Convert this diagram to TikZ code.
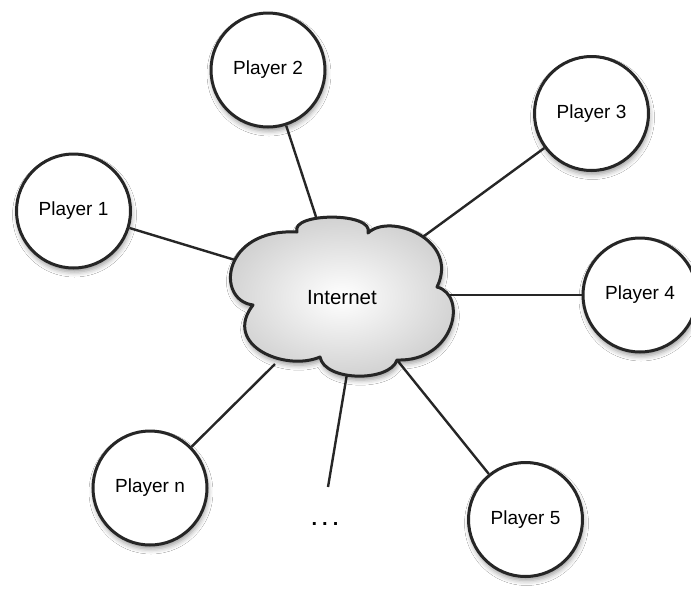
\documentclass[tikz,border=0pt]{standalone}
\usepackage{fontspec}
\setmainfont{Liberation Sans}
\usetikzlibrary{shadows.blur}
\begin{document}
\begin{tikzpicture}[x=1pt,y=-1pt,
  softshadow/.style={blur shadow={shadow xshift=1pt, shadow yshift=-4pt, shadow blur radius=5pt, shadow opacity=40}},
  player/.style={circle, draw=black!85, line width=3pt, fill=white, minimum size=114pt, inner sep=0pt,
    font=\fontsize{19}{22}\selectfont, softshadow},
  link/.style={draw=black!85, line width=2.4pt},
  cloudline/.style={draw=black!85, line width=3pt, line join=round, inner color=white, outer color=black!19, softshadow}]
\useasboundingbox (0,0) rectangle (691,590);
\fill[white] (0,0) rectangle (691,590);

% players
\node[player] (p1) at (73.5,211) {Player 1};
\node[player] (p2) at (268,70) {Player 2};
\node[player] (p3) at (591.5,113.5) {Player 3};
\node[player] (p4) at (640,295) {Player 4};
\node[player] (pn) at (150,488) {Player n};
\node[player] (p5) at (525.5,519.5) {Player 5};
\node[font=\fontsize{20}{22}\selectfont\bfseries] (dots) at (325,524) {.\hspace{5pt}.\hspace{5pt}.};

% attachment points on the cloud
\coordinate (c1) at (245,263);
\coordinate (c2) at (319,226);
\coordinate (c3) at (420,239);
\coordinate (c4) at (440,295);
\coordinate (c5) at (393,355);
\coordinate (c6) at (275,364);
\coordinate (c7) at (348,368);
\coordinate (d) at (328,487);

% connectors
\draw[link] (p1) -- (c1);
\draw[link] (p2) -- (c2);
\draw[link] (p3) -- (c3);
\draw[link] (p4) -- (c4);
\draw[link] (p5) -- (c5);
\draw[link] (pn) -- (c6);
\draw[link] (c7) -- (d);

% cloud
\shade[cloudline] (253,305)
  .. controls (215,300) and (222,228) .. (297,232)
  .. controls (290,212) and (375,212) .. (368,233)
  .. controls (390,212) and (460,240) .. (437,287)
  .. controls (468,295) and (455,362) .. (397,360)
  .. controls (390,382) and (325,382) .. (320,357)
  .. controls (285,372) and (222,345) .. cycle;
\node[font=\fontsize{20.5}{22}\selectfont] (internet) at (342,298) {Internet};
\end{tikzpicture}
\end{document}
